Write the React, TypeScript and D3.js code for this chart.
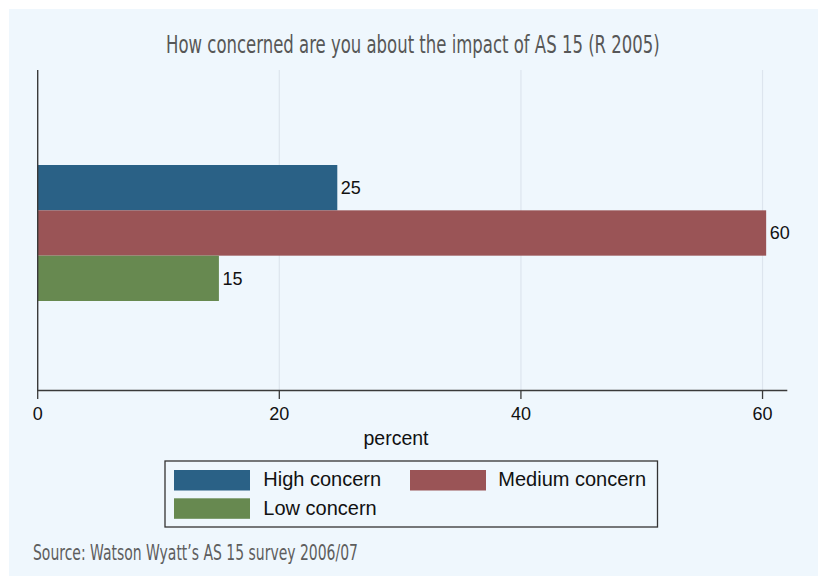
import React, { useLayoutEffect, useRef, useState } from "react";
import * as d3 from "d3";

const title = "How concerned are you about the impact of AS 15 (R 2005)";
const source = "Source: Watson Wyatt\u2019s AS 15 survey 2006/07";
const xAxisTitle = "percent";
const seriesNames = ["High concern", "Medium concern", "Low concern"];
const seriesValues = [24.8, 60.3, 15.0];
const seriesColors = ["#2a6186", "#9a5456", "#678950"];
const xTicks = [0, 20, 40, 60];
const xDomainMax = 62.05;

const W = 818;
const H = 576;
const plot = { left: 37.7, right: 787.3, top: 70, bottom: 390.5 };
const condensed =
  "'Liberation Sans Narrow', 'DejaVu Sans Condensed', 'Roboto Condensed', 'Arial Narrow', 'Liberation Sans', sans-serif";
const regular = "'Liberation Sans', Arial, Helvetica, sans-serif";

function FitText(props: {
  x: number;
  y: number;
  width: number;
  anchor: "start" | "middle";
  fontSize: number;
  fill: string;
  children: string;
}) {
  const ref = useRef<SVGTextElement>(null);
  const [sx, setSx] = useState(1);
  useLayoutEffect(() => {
    if (ref.current) {
      const w = ref.current.getComputedTextLength();
      if (w > 0) setSx(props.width / w);
    }
  }, [props.width, props.children]);
  return (
    <g transform={`translate(${props.x},${props.y}) scale(${sx},1)`}>
      <text
        ref={ref}
        x={0}
        y={0}
        textAnchor={props.anchor}
        fontFamily={condensed}
        fontSize={props.fontSize}
        fill={props.fill}
        style={{ fontStretch: "condensed" }}
      >
        {props.children}
      </text>
    </g>
  );
}

export default function App() {
  const x = d3.scaleLinear().domain([0, xDomainMax]).range([plot.left, plot.right]);
  const y = d3
    .scaleBand<string>()
    .domain(seriesNames)
    .range([plot.top + 95, plot.bottom - 89.5])
    .paddingInner(0);
  const fmt = d3.format(".0f");

  const legendCols = [
    { sw: 174, tx: 263.3 },
    { sw: 410, tx: 498.3 },
  ];
  const legendRows = [470, 498.3];

  return (
    <svg
      width={W}
      height={H}
      style={{ position: "absolute", left: 0, top: 0, background: "#ffffff" }}
    >
      <rect x={9} y={9} width={W - 9} height={H - 9} fill="#eff7fd" />
      <FitText x={412.9} y={53.3} width={494} anchor="middle" fontSize={25.5} fill="#575757">
        {title}
      </FitText>

      {/* gridlines */}
      {xTicks
        .filter((t) => t !== 0)
        .map((t) => (
          <line
            key={"g" + t}
            x1={x(t)}
            x2={x(t)}
            y1={plot.top}
            y2={plot.bottom}
            stroke="#dde5ee"
            strokeWidth={1.2}
          />
        ))}

      {/* bars */}
      {seriesNames.map((s, i) => (
        <g key={s}>
          <rect
            x={x(0)}
            y={y(s)}
            width={x(seriesValues[i]) - x(0)}
            height={y.bandwidth()}
            fill={seriesColors[i]}
          />
          <text
            x={x(seriesValues[i]) + 3.5}
            y={(y(s) as number) + y.bandwidth() / 2}
            dy="0.36em"
            fontFamily={regular}
            fontSize={18}
            fill="#111"
          >
            {fmt(seriesValues[i])}
          </text>
        </g>
      ))}

      {/* axes */}
      <line x1={plot.left} x2={plot.left} y1={plot.top} y2={plot.bottom} stroke="#3a3a3a" strokeWidth={1.4} />
      <line x1={plot.left - 0.7} x2={plot.right} y1={plot.bottom} y2={plot.bottom} stroke="#3a3a3a" strokeWidth={1.4} />
      {xTicks.map((t) => (
        <g key={"t" + t}>
          <line x1={x(t)} x2={x(t)} y1={plot.bottom} y2={399} stroke="#3a3a3a" strokeWidth={1.3} />
          <text
            x={x(t)}
            y={419.5}
            textAnchor="middle"
            fontFamily={regular}
            fontSize={18}
            fill="#111"
          >
            {t}
          </text>
        </g>
      ))}
      <text x={396} y={445} textAnchor="middle" fontFamily={regular} fontSize={19.5} fill="#111">
        {xAxisTitle}
      </text>

      {/* legend */}
      <rect x={165} y={461} width={492.5} height={66} fill="none" stroke="#333" strokeWidth={1.3} />
      {seriesNames.map((s, i) => {
        const col = legendCols[i % 2];
        const row = legendRows[Math.floor(i / 2)];
        return (
          <g key={"l" + s}>
            <rect x={col.sw} y={row} width={76} height={20.5} fill={seriesColors[i]} />
            <text x={col.tx} y={row + 16.2} fontFamily={regular} fontSize={20} fill="#111">
              {s}
            </text>
          </g>
        );
      })}

      <FitText x={33} y={559.5} width={325} anchor="start" fontSize={21.5} fill="#5e5e5e">
        {source}
      </FitText>
    </svg>
  );
}
